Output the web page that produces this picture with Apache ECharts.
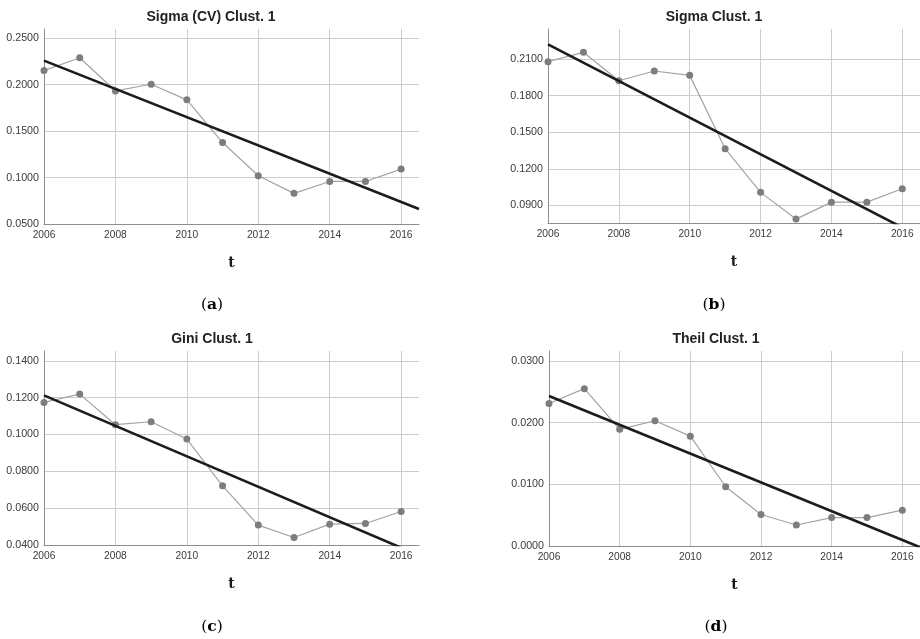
<!DOCTYPE html>
<html>
<head>
<meta charset="utf-8">
<title>Convergence indicators, Clust. 1</title>
<script src="https://cdn.jsdelivr.net/npm/echarts@6/dist/echarts.min.js"></script>
<style>
  html, body { margin: 0; padding: 0; background: #fff; }
  #chart { width: 920px; height: 639px; }
</style>
</head>
<body>
<div id="chart"></div>
<script>
// Years on the horizontal axis
const years = [2006, 2007, 2008, 2009, 2010, 2011, 2012, 2013, 2014, 2015, 2016];
const yearTicks = [2006, 2008, 2010, 2012, 2014, 2016];

// Indicator values per year
const sigmaCV = [0.2152, 0.2290, 0.1933, 0.2005, 0.1837, 0.1377, 0.1020, 0.0830, 0.0958, 0.0958, 0.1091];
const sigma   = [0.2078, 0.2155, 0.1922, 0.2002, 0.1966, 0.1365, 0.1007, 0.0788, 0.0927, 0.0927, 0.1037];
const gini    = [0.1174, 0.1219, 0.1053, 0.1069, 0.0975, 0.0721, 0.0508, 0.0441, 0.0513, 0.0517, 0.0582];
const theil   = [0.0231, 0.0255, 0.0189, 0.0203, 0.0178, 0.0096, 0.0051, 0.0034, 0.0046, 0.0046, 0.0058];

// Linear trend lines: value at the start and at the end of the x range
const trendYears   = [2006, 2016.5];
const sigmaCVTrend = [0.2259, 0.0662];
const sigmaTrend   = [0.2220, 0.0644];
const giniTrend    = [0.1212, 0.0344];
const theilTrend   = [0.0243, -0.0002];

// Value-axis ticks and extents
const sigmaCVTicks = [0.05, 0.10, 0.15, 0.20, 0.25];
const sigmaTicks   = [0.09, 0.12, 0.15, 0.18, 0.21];
const giniTicks    = [0.04, 0.06, 0.08, 0.10, 0.12, 0.14];
const theilTicks   = [0.00, 0.01, 0.02, 0.03];
const sigmaCVRange = [0.05, 0.26];
const sigmaRange   = [0.0756, 0.2346];
const giniRange    = [0.04, 0.1453];
const theilRange   = [0.0, 0.0316];
const yearRange    = [2006, 2016.5];

const titles   = ['Sigma (CV) Clust. 1', 'Sigma Clust. 1', 'Gini Clust. 1', 'Theil Clust. 1'];
const captions = ['a', 'b', 'c', 'd'];

const panels = [
  { values: sigmaCV, trend: sigmaCVTrend, ticks: sigmaCVTicks, range: sigmaCVRange,
    grid: { left: 44, top: 29, width: 375, height: 195 }, titleX: 211, captionX: 212 },
  { values: sigma, trend: sigmaTrend, ticks: sigmaTicks, range: sigmaRange,
    grid: { left: 548, top: 29, width: 375, height: 194 }, titleX: 714, captionX: 714 },
  { values: gini, trend: giniTrend, ticks: giniTicks, range: giniRange,
    grid: { left: 44, top: 351, width: 375, height: 194 }, titleX: 212, captionX: 212 },
  { values: theil, trend: theilTrend, ticks: theilTicks, range: theilRange,
    grid: { left: 549, top: 351, width: 374, height: 195 }, titleX: 716, captionX: 716 }
];

const SANS = '"Liberation Sans", Arial, sans-serif';
const SERIF = '"DejaVu Serif", "Liberation Serif", serif';
const GRID_COLOR = '#cdcdcd';
const AXIS_COLOR = '#8e8e8e';
const LABEL_COLOR = '#3a3a3a';

const grids = [], xAxes = [], yAxes = [], series = [], graphics = [];

panels.forEach((p, i) => {
  grids.push(Object.assign({ containLabel: false }, p.grid));

  xAxes.push({
    type: 'value', gridIndex: i,
    min: yearRange[0], max: yearRange[1],
    name: 't', nameLocation: 'middle', nameGap: 32,
    nameTextStyle: { fontFamily: SERIF, fontWeight: 'bold', fontSize: 14, color: '#1a1a1a' },
    axisLine: { show: true, onZero: false, lineStyle: { color: AXIS_COLOR, width: 1 } },
    axisTick: { show: false, customValues: yearTicks },
    axisLabel: { customValues: yearTicks, margin: 6, fontFamily: SANS, fontSize: 10.2,
                 color: LABEL_COLOR, formatter: v => String(v) },
    splitLine: { show: true, customValues: yearTicks, lineStyle: { color: GRID_COLOR, width: 1 } }
  });

  yAxes.push({
    type: 'value', gridIndex: i,
    min: p.range[0], max: p.range[1],
    axisLine: { show: true, onZero: false, lineStyle: { color: AXIS_COLOR, width: 1 } },
    axisTick: { show: false, customValues: p.ticks },
    axisLabel: { customValues: p.ticks, margin: 5, fontFamily: SANS, fontSize: 10.7,
                 color: LABEL_COLOR, formatter: v => v.toFixed(4) },
    splitLine: { show: true, customValues: p.ticks, lineStyle: { color: GRID_COLOR, width: 1 } }
  });

  series.push({
    type: 'line', xAxisIndex: i, yAxisIndex: i,
    data: years.map((y, k) => [y, p.values[k]]),
    symbol: 'circle', symbolSize: 7,
    itemStyle: { color: '#7d7d7d' },
    lineStyle: { color: '#a3a3a3', width: 1.2 },
    clip: true, silent: true, animation: false, z: 2
  });

  series.push({
    type: 'line', xAxisIndex: i, yAxisIndex: i,
    data: trendYears.map((y, k) => [y, p.trend[k]]),
    symbol: 'none',
    lineStyle: { color: '#1c1c1c', width: 2.6 },
    clip: true, silent: true, animation: false, z: 3
  });

  const top = p.grid.top;
  graphics.push({
    type: 'text', x: p.titleX, y: top - 12,
    style: { text: titles[i], font: 'bold 14px ' + SANS, fill: '#222',
             align: 'center', verticalAlign: 'middle', textAlign: 'center', textVerticalAlign: 'middle' }
  });
  graphics.push({
    type: 'text', x: p.captionX, y: top + 276,
    style: {
      text: '{p|(}{b|' + captions[i] + '}{p|)}',
      align: 'center', verticalAlign: 'middle', textAlign: 'center', textVerticalAlign: 'middle',
      rich: {
        p: { fontFamily: SERIF, fontSize: 15.5, color: '#1a1a1a' },
        b: { fontFamily: SERIF, fontSize: 15.5, fontWeight: 'bold', color: '#1a1a1a' }
      }
    }
  });
});

const chart = echarts.init(document.getElementById('chart'), null, { renderer: 'canvas' });
chart.setOption({
  backgroundColor: '#ffffff',
  animation: false,
  grid: grids,
  xAxis: xAxes,
  yAxis: yAxes,
  series: series,
  graphic: graphics
});
</script>
</body>
</html>
